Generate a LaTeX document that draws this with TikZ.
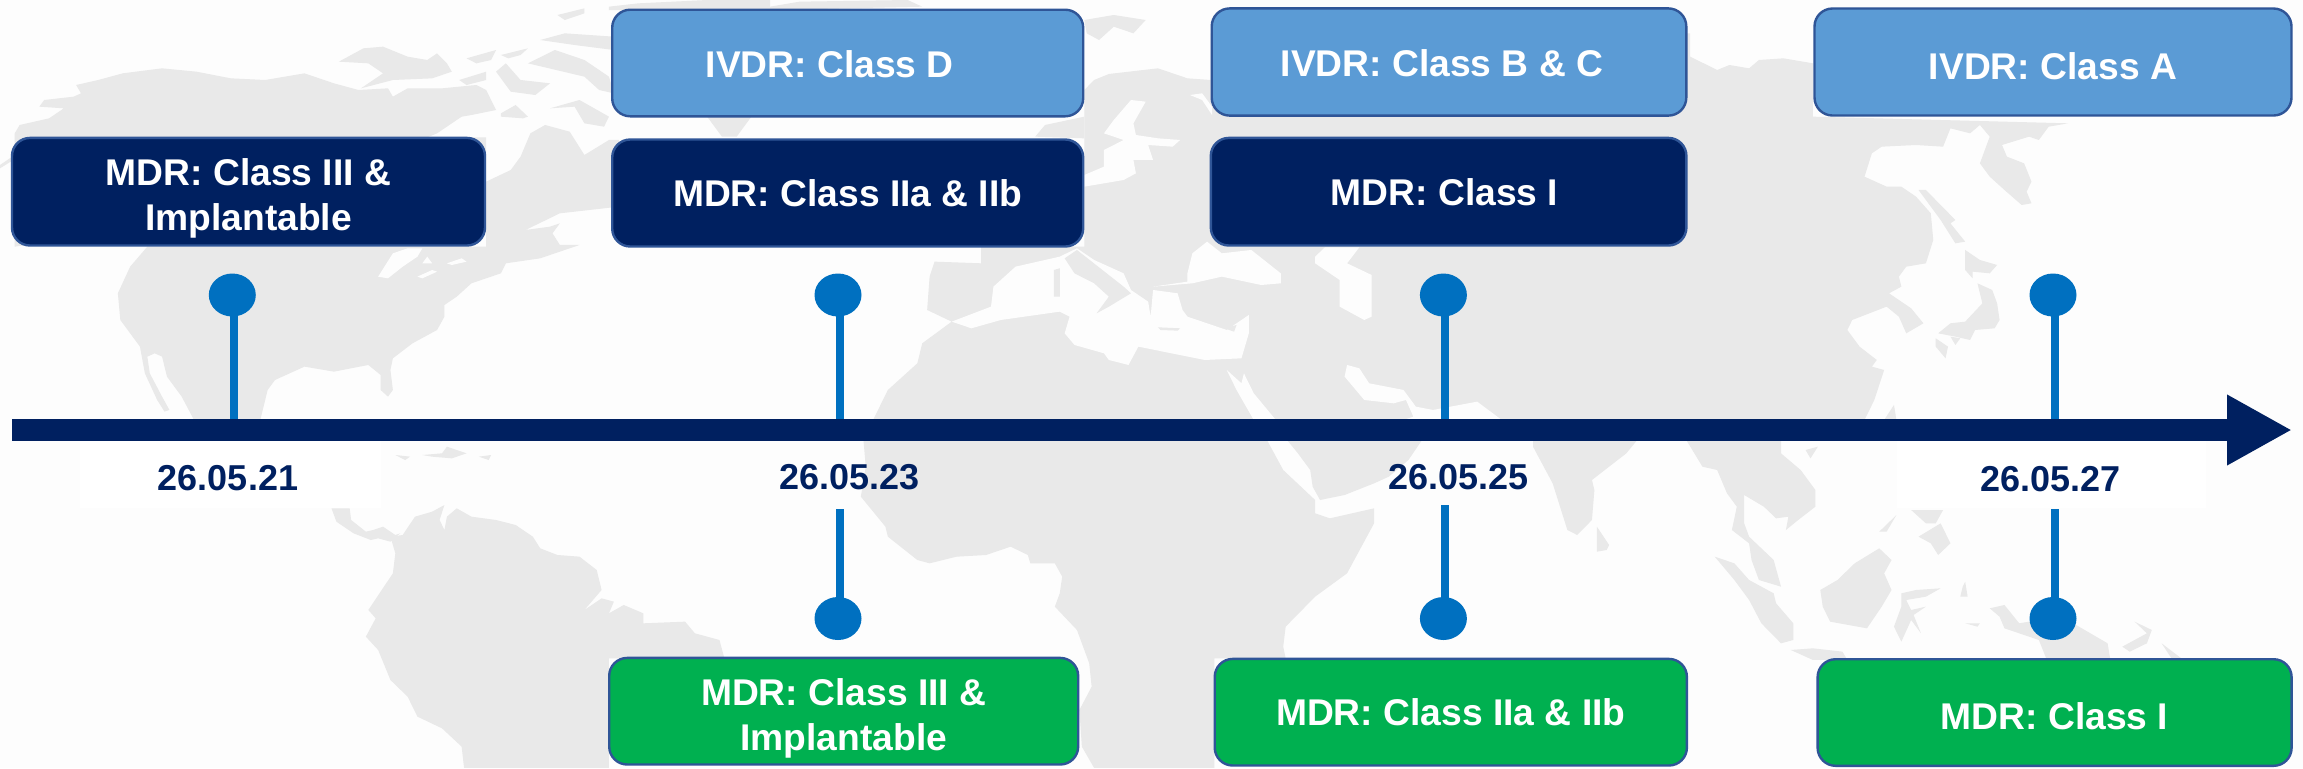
\documentclass[tikz,border=0pt]{standalone}
\usepackage{fontspec}
\setmainfont{Liberation Sans}
\usetikzlibrary{positioning,calc,shapes.geometric,arrows.meta}

\definecolor{pagebg}{HTML}{FDFDFD}
\definecolor{landgrey}{HTML}{E9E9E9}
\definecolor{navy}{HTML}{002060}
\definecolor{skyblue}{HTML}{5B9BD5}
\definecolor{mdrgreen}{HTML}{00B050}
\definecolor{rimblue}{HTML}{2F5597}
\definecolor{pinblue}{HTML}{0070C0}

\tikzset{
  land/.style={fill=landgrey},
  sea/.style={fill=pagebg},
  class box/.style={draw=rimblue, line width=1.2pt, rounded corners=9pt, anchor=center,
    text=white, align=center, inner sep=0pt, font=\fontsize{18.6}{22.5}\selectfont\bfseries},
  date/.style={text=navy, inner sep=0pt, font=\fontsize{18}{22}\selectfont\bfseries},
  dot/.style={ellipse, fill=pinblue, inner sep=0pt, minimum width=23.5pt, minimum height=21.5pt},
  stem/.style={draw=pinblue, line width=4.1pt},
  tile/.style={xscale=0.4911, yscale=0.3333}
}

\begin{document}
\begin{tikzpicture}[x=0.5pt, y=-0.5pt]

\fill[sea] (0,0) rectangle (2303,768);
\useasboundingbox (0,0) rectangle (2303,768);

\begin{scope}[tile]
\fill[land] plot coordinates {(30,740) (30,400) (40,375) (100,355) (130,325) (80,320) (90,300) (150,290) (165,280) (155,255) (200,240) (250,220) (330,205) (400,215) (470,235) (540,240) (620,220) (680,250) (730,270) (790,265) (800,290) (830,265) (900,265) (970,255) (990,270) (1000,300) (1010,330) (960,345) (940,350) (890,400) (870,412) (990,412) (990,740) (300,740) (265,800) (240,880) (245,960) (285,1040) (295,1120) (320,1200) (335,1235) (345,1230) (330,1190) (305,1120) (300,1070) (315,1060) (330,1070) (340,1130) (370,1190) (395,1260) (530,1260) (545,1170) (560,1140) (620,1100) (680,1115) (750,1095) (775,1125) (775,1170) (790,1190) (800,1170) (795,1110) (800,1075) (840,1030) (890,990) (905,950) (905,915) (930,890) (960,850) (1020,820) (1030,790) (1100,775) (1180,735) (1140,735) (1125,700) (1140,670) (1120,680) (1070,690) (1140,640) (1260,620) (1260,420) (1240,420) (1190,465) (1175,430) (1160,395) (1110,375) (1080,400) (1060,470) (1040,510) (990,545)} -- cycle;
\fill[sea] plot coordinates {(770,830) (800,760) (830,745) (860,745) (850,770) (820,800) (790,835)} -- cycle;
\fill[sea] plot coordinates {(850,830) (880,810) (890,815) (860,835)} -- cycle;
\fill[sea] plot coordinates {(910,790) (940,775) (950,785) (920,795)} -- cycle;
\fill[sea] plot coordinates {(860,790) (870,770) (880,790)} -- cycle;
\fill[land] plot coordinates {(0,495) (25,470) (25,482) (0,505)} -- cycle;
\fill[land] plot coordinates {(690,185) (740,145) (780,140) (830,170) (870,180) (890,160) (910,190) (920,215) (880,235) (800,240) (735,265) (780,220) (750,190)} -- cycle;
\fill[land] plot coordinates {(950,175) (1010,150) (1000,180) (970,190)} -- cycle;
\fill[land] plot coordinates {(1020,165) (1075,145) (1060,165) (1035,175)} -- cycle;
\fill[land] plot coordinates {(935,240) (990,215) (990,240) (950,255)} -- cycle;
\fill[land] plot coordinates {(1040,275) (1010,215) (1030,190) (1060,240) (1120,250) (1090,285)} -- cycle;
\fill[land] plot coordinates {(1075,190) (1130,150) (1190,180) (1240,230) (1250,280) (1220,270) (1190,230)} -- cycle;
\fill[land] plot coordinates {(1120,325) (1180,300) (1240,350) (1230,380) (1190,370) (1170,320)} -- cycle;
\fill[land] plot coordinates {(1100,120) (1150,100) (1250,110) (1250,150) (1170,135)} -- cycle;
\fill[land] plot coordinates {(1135,45) (1190,25) (1190,40) (1150,60)} -- cycle;
\fill[land] plot coordinates {(1240,20) (1300,10) (1440,0) (1568,0) (1568,30) (1240,30)} -- cycle;
\fill[land] plot coordinates {(1020,340) (1050,315) (1075,350) (1065,355) (1020,350)} -- cycle;
\fill[land] plot coordinates {(1440,350) (1530,350) (1500,410) (1470,410)} -- cycle;
\end{scope}

\begin{scope}[shift={(770,0)}, tile]
\fill[land] plot coordinates {(0,20) (60,5) (280,0) (310,20) (0,30)} -- cycle;
\fill[land] plot coordinates {(640,60) (700,45) (765,60) (740,100) (700,80) (670,120) (645,100)} -- cycle;
\fill[land] plot coordinates {(540,410) (560,375) (640,350) (640,415)} -- cycle;
\fill[land] plot coordinates {(430,740) (640,740) (640,270) (660,240) (690,222) (790,205) (850,235) (897,240) (897,100) (1580,100) (1580,1260) (210,1260) (240,1170) (300,1090) (310,1030) (370,965) (320,930) (325,830) (335,785) (430,790)} -- cycle;
\fill[sea] plot coordinates {(680,400) (700,360) (735,300) (765,305) (740,370) (745,405) (790,415) (835,420) (820,440) (770,435) (780,480) (740,480) (745,520) (720,540) (640,560) (640,525) (680,500) (680,450) (720,420)} -- cycle;
\fill[sea] plot coordinates {(855,285) (880,280) (900,320) (900,345) (880,300)} -- cycle;
\fill[sea] plot coordinates {(370,965) (450,920) (455,860) (500,800) (590,770) (625,745) (660,780) (720,820) (735,870) (770,905) (775,950) (780,870) (830,880) (840,930) (850,950) (930,990) (975,945) (975,1000) (960,1075) (885,1080) (750,1040) (730,1095) (690,1080) (680,1060) (620,1035) (600,1000) (610,950) (590,935) (470,960) (410,985)} -- cycle;
\fill[land] plot coordinates {(600,775) (625,750) (720,860) (735,880) (690,920) (665,940) (690,890) (660,850) (620,820)} -- cycle;
\fill[land] plot coordinates {(578,810) (590,805) (590,890) (578,890)} -- cycle;
\fill[land] plot coordinates {(790,982) (835,985) (830,992) (795,990)} -- cycle;
\fill[land] plot coordinates {(925,985) (950,975) (945,995)} -- cycle;
\fill[sea] plot coordinates {(850,820) (860,760) (890,725) (920,760) (980,750) (1040,820) (1040,850) (1000,855) (920,830) (860,850) (780,860) (850,845)} -- cycle;
\fill[sea] plot coordinates {(1110,770) (1130,742) (1200,742) (1175,790) (1225,825) (1225,950) (1210,960) (1160,920) (1160,840) (1110,790)} -- cycle;
\fill[sea] plot coordinates {(930,1110) (960,1150) (965,1120) (985,1180) (1030,1260) (985,1260) (950,1170)} -- cycle;
\fill[sea] plot coordinates {(1175,1095) (1200,1105) (1220,1150) (1290,1170) (1315,1220) (1350,1230) (1440,1205) (1490,1260) (1290,1260) (1310,1250) (1295,1200) (1270,1210) (1210,1200) (1170,1130)} -- cycle;
\end{scope}

\begin{scope}[shift={(1533,0)}, tile]
\fill[land] plot coordinates {(0,100) (320,100) (320,170) (375,210) (400,195) (440,205) (460,180) (510,175) (570,190) (570,350) (1090,370) (1050,380) (1030,420) (1010,410) (955,435) (965,470) (1000,490) (1015,545) (1005,575) (1015,610) (995,615) (960,570) (930,530) (910,490) (930,410) (910,375) (890,400) (850,385) (835,440) (780,435) (710,440) (690,460) (675,530) (720,560) (750,560) (780,590) (810,640) (815,720) (800,790) (760,800) (745,830) (750,860) (725,880) (770,925) (795,970) (760,1000) (745,950) (720,920) (650,960) (640,990) (665,1040) (700,1080) (690,1100) (715,1110) (695,1200) (675,1260) (0,1260)} -- cycle;
\fill[land] plot coordinates {(785,570) (800,570) (860,660) (850,670) (880,725) (860,730) (830,660)} -- cycle;
\fill[land] plot coordinates {(880,750) (910,780) (945,795) (930,820) (895,815) (895,835) (880,810)} -- cycle;
\fill[land] plot coordinates {(905,850) (935,870) (945,910) (950,960) (940,985) (900,990) (890,1020) (860,1010) (825,1000) (850,970) (880,965) (915,910)} -- cycle;
\fill[land] plot coordinates {(820,1015) (845,1040) (840,1075) (820,1040)} -- cycle;
\fill[land] plot coordinates {(850,1010) (870,1015) (860,1035)} -- cycle;
\fill[land] plot coordinates {(715,1260) (735,1215) (740,1260)} -- cycle;
\end{scope}

\begin{scope}[shift={(0,420)}, tile]
\fill[land] plot coordinates {(395,55) (530,55) (530,68) (395,68)} -- cycle;
\fill[land] plot coordinates {(805,105) (835,110) (825,120)} -- cycle;
\fill[land] plot coordinates {(860,105) (900,100) (910,80) (950,100) (920,115) (880,110)} -- cycle;
\fill[land] plot coordinates {(975,110) (1000,105) (995,120)} -- cycle;
\fill[land] plot coordinates {(675,265) (712,265) (715,300) (745,335) (760,330) (780,320) (805,345) (815,340) (795,365) (770,355) (755,360) (720,340) (685,305)} -- cycle;
\fill[land] plot coordinates {(820,345) (845,290) (880,275) (905,255) (895,300) (905,330) (910,290) (930,265) (960,290) (1010,300) (1050,315) (1085,350) (1100,385) (1135,405) (1180,410) (1215,450) (1225,510) (1190,570) (1225,535) (1250,545) (1240,580) (1270,555) (1310,580) (1310,610) (1395,605) (1415,640) (1465,660) (1475,715) (1240,715) (1240,1044) (945,1044) (940,980) (900,925) (850,890) (830,830) (795,780) (770,690) (745,650) (765,595) (750,570) (800,460) (805,400) (795,350)} -- cycle;
\end{scope}

\begin{scope}[shift={(770,420)}, tile]
\fill[land] plot coordinates {(190,55) (195,140) (185,230) (235,320) (240,350) (300,420) (325,430) (380,410) (440,405) (490,380) (525,405) (530,430) (580,430) (595,470) (590,520) (580,560) (625,630) (650,730) (655,800) (630,870) (635,980) (660,1044) (905,1044) (905,715) (1050,715) (1045,680) (1050,620) (1110,530) (1175,460) (1230,310) (1230,265) (1140,295) (1110,280) (1110,240) (1045,150) (1010,55)} -- cycle;
\fill[land] plot coordinates {(1050,55) (1075,100) (1100,150) (1105,200) (1120,240) (1170,225) (1230,190) (1260,170) (1300,120) (1330,55)} -- cycle;
\end{scope}

\begin{scope}[shift={(1533,420)}, tile]
\fill[land] plot coordinates {(0,55) (0,80) (40,190) (70,330) (90,345) (120,300) (125,210) (120,180) (190,100) (215,55)} -- cycle;
\fill[land] plot coordinates {(130,320) (155,375) (150,390) (130,395)} -- cycle;
\fill[land] plot coordinates {(310,55) (345,140) (375,150) (395,220) (415,260) (405,330) (440,370) (445,420) (460,480) (505,500) (490,420) (440,350) (430,310) (430,225) (470,260) (495,295) (520,290) (515,330) (540,300) (575,260) (575,210) (545,150) (505,100) (505,55)} -- cycle;
\fill[land] plot coordinates {(555,90) (580,80) (565,115)} -- cycle;
\fill[land] plot coordinates {(370,410) (410,430) (440,480) (490,520) (495,550) (530,610) (530,660) (505,670) (465,610) (440,540) (410,480)} -- cycle;
\fill[land] plot coordinates {(525,690) (570,685) (630,695) (640,720) (570,720)} -- cycle;
\fill[land] plot coordinates {(585,510) (620,480) (655,430) (705,385) (730,420) (715,460) (730,510) (710,560) (680,625) (605,605) (590,560)} -- cycle;
\fill[land] plot coordinates {(750,520) (780,510) (830,505) (800,530) (760,540) (770,570) (800,560) (775,585) (790,640) (770,600) (750,665) (735,620) (750,560)} -- cycle;
\fill[land] plot coordinates {(770,270) (835,270) (820,310) (800,310)} -- cycle;
\fill[land] plot coordinates {(785,350) (830,310) (850,370) (825,405) (810,370)} -- cycle;
\fill[land] plot coordinates {(705,335) (740,285) (720,335)} -- cycle;
\fill[land] plot coordinates {(880,485) (885,530) (870,530) (875,500)} -- cycle;
\fill[land] plot coordinates {(880,610) (910,610) (905,620)} -- cycle;
\fill[land] plot coordinates {(930,565) (960,555) (990,610) (1030,600) (1100,610) (1170,670) (1175,715) (1045,715) (1030,660) (960,625) (950,590)} -- cycle;
\fill[land] plot coordinates {(1200,680) (1250,640) (1225,605) (1260,630) (1250,670) (1215,695)} -- cycle;
\fill[land] plot coordinates {(1280,670) (1300,715) (1320,715)} -- cycle;
\end{scope}

\fill[white] (80,441) rectangle (381,508);
\fill[white] (1897,441) rectangle (2206,508);

\coordinate (axis-start) at (12,430);
\coordinate (axis-end) at (2292,430);
\draw[navy, line width=11pt, -{Triangle[length=32.5pt,width=33pt]}] (axis-start) -- (axis-end);

\foreach \m/\x in {1/232.3,2/838,3/1443.4,4/2053} {
  \node[dot] (dot-\m) at (\x,295) {};
  \coordinate (foot-\m) at (\x+1.6,419);
  \draw[stem] (foot-\m |- dot-\m) -- (foot-\m);
}

\foreach \m/\x/\t in {2/838/509,3/1443.4/505,4/2053/509} {
  \node[dot] (lowdot-\m) at (\x,618.5) {};
  \coordinate (top-\m) at (\x+1.6,\t);
  \draw[stem] (top-\m) -- (top-\m |- lowdot-\m);
}

\node[date] (date-1) at (228,478) {26.05.21};
\node[date] (date-2) at (849.8,477) {26.05.23};
\node[date] (date-3) at (1458.9,477) {26.05.25};
\node[date] (date-4) at (2050.4,479.5) {26.05.27};

\node[class box, fill=navy, minimum width=236.5pt, minimum height=53.8pt] (mdr-1) at (248.5,191.7) {\rule{0pt}{20.3pt}MDR: Class III \&\\Implantable};
\node[class box, fill=navy, minimum width=235.5pt, minimum height=53.5pt] (mdr-2) at (847.7,193) {MDR: Class IIa \& IIb};
\node[class box, fill=navy, minimum width=237.8pt, minimum height=53.8pt] (mdr-3) at (1448.6,191.7) {MDR: Class I\hspace*{4pt}};
\node[class box, fill=skyblue, minimum width=235.5pt, minimum height=53.3pt] (ivdr-1) at (847.7,63) {\rule{0pt}{15pt}IVDR: Class D\hspace*{18pt}};
\node[class box, fill=skyblue, minimum width=237.3pt, minimum height=53.6pt] (ivdr-2) at (1449,62) {\rule{0pt}{15pt}IVDR: Class B \& C\hspace*{7pt}};
\node[class box, fill=skyblue, minimum width=238.5pt, minimum height=53.5pt] (ivdr-3) at (2053,62) {\rule{0pt}{17.3pt}IVDR: Class A};
\node[class box, fill=mdrgreen, minimum width=234.5pt, minimum height=53.3pt] (green-1) at (843.7,711.2) {\rule{0pt}{20.3pt}MDR: Class III \&\\Implantable};
\node[class box, fill=mdrgreen, minimum width=236.1pt, minimum height=53.3pt] (green-2) at (1450.8,712.2) {MDR: Class IIa \& IIb};
\node[class box, fill=mdrgreen, minimum width=237pt, minimum height=53.3pt] (green-3) at (2054.6,712.5) {\rule{0pt}{17.3pt}MDR: Class I};

\end{tikzpicture}
\end{document}
